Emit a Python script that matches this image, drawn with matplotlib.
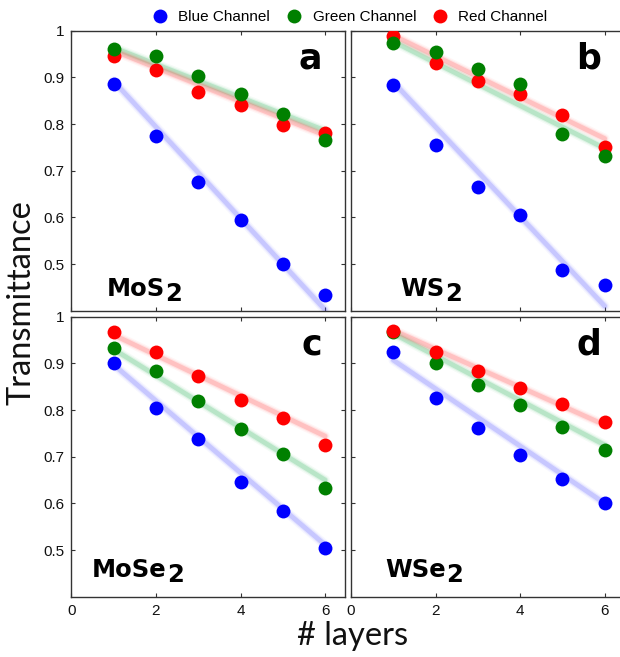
import matplotlib
matplotlib.use("Agg")
import matplotlib.pyplot as plt
from matplotlib.lines import Line2D

# ---------------- data ----------------
layers = [1, 2, 3, 4, 5, 6]
channels = ["Blue Channel", "Green Channel", "Red Channel"]
channel_colors = ["#0000ff", "#008000", "#ff0000"]
fit_colors = ["#5a5aff", "#2fb45a", "#ff4a4a"]

materials = ["MoS", "WS", "MoSe", "WSe"]   # each followed by subscript 2
panel_letters = ["a", "b", "c", "d"]

# transmittance values per panel: blue, green, red
blue_a = [0.886, 0.775, 0.675, 0.594, 0.500, 0.434]
green_a = [0.962, 0.946, 0.903, 0.864, 0.821, 0.767]
red_a = [0.946, 0.917, 0.869, 0.842, 0.798, 0.782]

blue_b = [0.884, 0.755, 0.666, 0.605, 0.487, 0.455]
green_b = [0.973, 0.954, 0.919, 0.886, 0.779, 0.732]
red_b = [0.988, 0.930, 0.892, 0.864, 0.819, 0.751]

blue_c = [0.900, 0.805, 0.739, 0.646, 0.584, 0.505]
green_c = [0.934, 0.884, 0.819, 0.759, 0.706, 0.634]
red_c = [0.967, 0.924, 0.873, 0.822, 0.784, 0.725]

blue_d = [0.925, 0.825, 0.761, 0.704, 0.652, 0.600]
green_d = [0.968, 0.901, 0.854, 0.811, 0.764, 0.714]
red_d = [0.969, 0.925, 0.884, 0.848, 0.813, 0.774]

# fitted guide lines: value at first and last layer (blue, green, red)
fit_x = [1, 6]
fit_a = [[0.892, 0.402], [0.964, 0.786], [0.957, 0.776]]
fit_b = [[0.890, 0.410], [0.977, 0.748], [0.990, 0.769]]
fit_c = [[0.897, 0.511], [0.930, 0.650], [0.961, 0.744]]
fit_d = [[0.907, 0.600], [0.964, 0.725], [0.971, 0.768]]

xticks = [0, 2, 4, 6]
xticklabels = ["0", "2", "4", "6"]
yticks = [0.5, 0.6, 0.7, 0.8, 0.9, 1.0]
yticklabels = ["0.5", "0.6", "0.7", "0.8", "0.9", "1"]

panels = [
    (blue_a, green_a, red_a, fit_a, ["blue", "red", "green"]),
    (blue_b, green_b, red_b, fit_b, ["blue", "red", "green"]),
    (blue_c, green_c, red_c, fit_c, ["blue", "green", "red"]),
    (blue_d, green_d, red_d, fit_d, ["blue", "green", "red"]),
]

# ---------------- figure ----------------
W, H = 620, 657
fig = plt.figure(figsize=(W / 100, H / 100), dpi=100)

tick_font = "Liberation Sans"
label_font = "Lato"

ax_w = 273.6 / W
ax_h = 280.0 / H
lefts = [71.4 / W, 351.0 / W]
bottoms = [1 - 310.8 / H, 1 - 596.7 / H]

idx_map = {"blue": 0, "green": 1, "red": 2}

for i, (b, g, r, fit, order) in enumerate(panels):
    row, col = divmod(i, 2)
    ax = fig.add_axes([lefts[col], bottoms[row], ax_w, ax_h])
    series = [b, g, r]
    # guide lines with soft glow
    for k in range(3):
        c = fit_colors[k]
        for lw, al in [(7, 0.05), (5, 0.1), (3.4, 0.22)]:
            ax.plot(fit_x, fit[k], color=c, lw=lw, alpha=al,
                    solid_capstyle="round", zorder=2)
    for name in order:
        k = idx_map[name]
        ax.plot(layers, series[k], "o", color=channel_colors[k],
                markersize=10, markeredgewidth=0, zorder=3)

    ax.set_xlim(0, 6.47)
    ax.set_ylim(0.4, 1.0)
    ax.set_xticks(xticks)
    ax.set_yticks(yticks)
    if row == 1:
        ax.set_xticklabels(xticklabels, fontfamily=tick_font, fontsize=11)
    else:
        ax.set_xticklabels([])
    if col == 0:
        ax.set_yticklabels(yticklabels, fontfamily=tick_font, fontsize=11)
    else:
        ax.set_yticklabels([])
    ax.tick_params(direction="in", length=3, width=0.8, top=True, right=True,
                   color="#333333", pad=5, labelcolor="#111111")
    for s in ax.spines.values():
        s.set_color("#333333")
        s.set_linewidth(1.0)

    # panel letter
    ax.text(0.915, 0.865, panel_letters[i], transform=ax.transAxes,
            ha="right", va="baseline", fontsize=25, fontweight="bold",
            fontfamily="DejaVu Sans", color="black")
    # material label with large subscript 2
    mx = [0.129, 0.179, 0.074, 0.124][i]
    my = [0.054, 0.054, 0.071, 0.071][i]
    t = ax.text(mx, my, materials[i], transform=ax.transAxes,
                ha="left", va="baseline", fontsize=17.5, fontweight="bold",
                fontfamily="DejaVu Sans", color="black")
    ax.annotate("2", xy=(1, 0), xycoords=t, xytext=(0.3, 0),
                textcoords="offset points", ha="left", va="baseline",
                fontsize=17.5, fontweight="bold", fontfamily="DejaVu Sans",
                color="black")

# legend
handles = [Line2D([], [], ls="", marker="o", color=c, markersize=10,
                  markeredgewidth=0) for c in channel_colors]
fig.legend(handles, channels, loc="center", bbox_to_anchor=(350 / W, 1 - 17 / H),
           ncol=3, frameon=False, handlelength=1.0, handletextpad=0.7,
           columnspacing=1.07, prop={"family": tick_font, "size": 11})

# axis labels
fig.text(22 / W, 1 - 303 / H, "Transmittance", rotation=90, ha="center",
         va="center", fontsize=23.5, fontfamily=label_font, color="#111111")
fig.text(353 / W, 1 - 636 / H, "# layers", ha="center", va="center",
         fontsize=23.5, fontfamily=label_font, color="#111111")

fig.savefig("out.png", dpi=100)
